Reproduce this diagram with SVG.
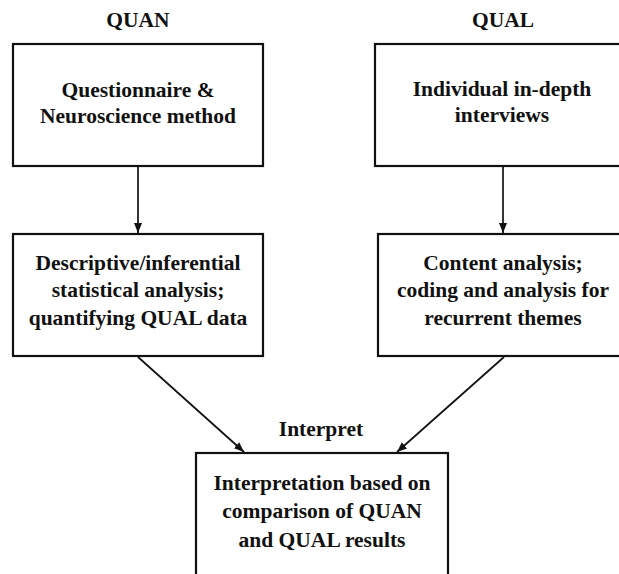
<svg xmlns="http://www.w3.org/2000/svg" width="619" height="574" viewBox="0 0 619 574">
<style>
.box{fill:#fff;stroke:#111;stroke-width:2.2}
.t{font-family:"Liberation Serif","Times New Roman",serif;font-weight:bold;font-size:21.5px;fill:#111;text-anchor:middle}
.c{stroke:#111;stroke-width:1.7;fill:none}
</style>
<defs>
<marker id="ah" viewBox="0 0 10 10" refX="10" refY="5" markerWidth="10" markerHeight="10" markerUnits="userSpaceOnUse" orient="auto">
<path d="M0,1 L10,5 L0,9 z" fill="#111"/>
</marker>
</defs>
<rect width="619" height="574" fill="#fff"/>
<text class="t" x="138" y="27">QUAN</text>
<text class="t" x="503" y="27">QUAL</text>
<text class="t" x="321" y="436">Interpret</text>
<g id="connectors">
<line class="c" x1="138" y1="167" x2="138" y2="233" marker-end="url(#ah)"/>
<line class="c" x1="503" y1="167" x2="503" y2="233" marker-end="url(#ah)"/>
<line class="c" x1="138" y1="357" x2="244" y2="452" marker-end="url(#ah)"/>
<line class="c" x1="504" y1="357" x2="397" y2="452" marker-end="url(#ah)"/>
</g>
<g id="n1">
<rect class="box" x="13" y="44" width="250" height="122"/>
<text class="t" x="138" y="97">Questionnaire &amp;</text>
<text class="t" x="138" y="123">Neuroscience method</text>
</g>
<g id="n2">
<rect class="box" x="375" y="44" width="256" height="122"/>
<text class="t" x="502" y="96">Individual in-depth</text>
<text class="t" x="502" y="122">interviews</text>
</g>
<g id="n3">
<rect class="box" x="13" y="234" width="250" height="122"/>
<text class="t" x="138" y="270">Descriptive/inferential</text>
<text class="t" x="138" y="297">statistical analysis;</text>
<text class="t" x="138" y="325">quantifying QUAL data</text>
</g>
<g id="n4">
<rect class="box" x="378" y="234" width="252" height="122"/>
<text class="t" x="503" y="270">Content analysis;</text>
<text class="t" x="503" y="297">coding and analysis for</text>
<text class="t" x="503" y="325">recurrent themes</text>
</g>
<g id="n5">
<rect class="box" x="196" y="453" width="252" height="140"/>
<text class="t" x="322" y="490">Interpretation based on</text>
<text class="t" x="322" y="518">comparison of QUAN</text>
<text class="t" x="322" y="547">and QUAL results</text>
</g>
</svg>
